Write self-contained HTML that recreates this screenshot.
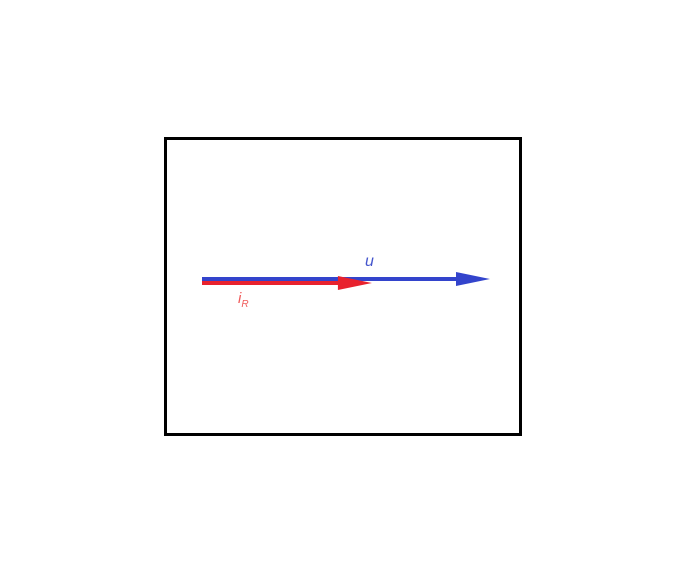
<!DOCTYPE html>
<html><head><meta charset="utf-8"><style>
html,body{margin:0;padding:0;background:#fff;}
svg{display:block;}
</style></head><body>
<svg width="687" height="575">
<rect x="165.5" y="138.5" width="355" height="296" fill="#fff" stroke="#000" stroke-width="3"/>
<g id="vecs"></g>
</svg>
<script>
const names = ['u', 'iR'];
const magnitudes = [1.0, 0.59];
const colors = ['#3344cc', '#e8222e'];
const offsets = [0, 1];
const ox = 202, oy = 279, scale = 288;
const g = document.getElementById('vecs');
const ns = 'http://www.w3.org/2000/svg';
for (let i = 0; i < names.length; i++) {
  const y = oy + offsets[i] * 4;
  const tip = ox + magnitudes[i] * scale;
  const hl = 34;
  const line = document.createElementNS(ns, 'rect');
  line.setAttribute('x', ox); line.setAttribute('y', y - 2);
  line.setAttribute('width', tip - hl - ox + 2); line.setAttribute('height', 4);
  line.setAttribute('fill', colors[i]);
  
  
  g.appendChild(line);
  const head = document.createElementNS(ns, 'polygon');
  head.setAttribute('points', `${tip-hl},${y-7} ${tip},${y} ${tip-hl},${y+7}`);
  head.setAttribute('fill', colors[i]);
  
  
  g.appendChild(head);
}
</script>
<div style="position:absolute;left:365px;top:253px;font:italic 16px 'Liberation Sans',sans-serif;color:#4455cc;">u</div>
<div style="position:absolute;left:238px;top:290px;font:italic 15px 'Liberation Sans',sans-serif;color:#f05a5a;">i<sub style="font-size:10px">R</sub></div>
</body></html>
